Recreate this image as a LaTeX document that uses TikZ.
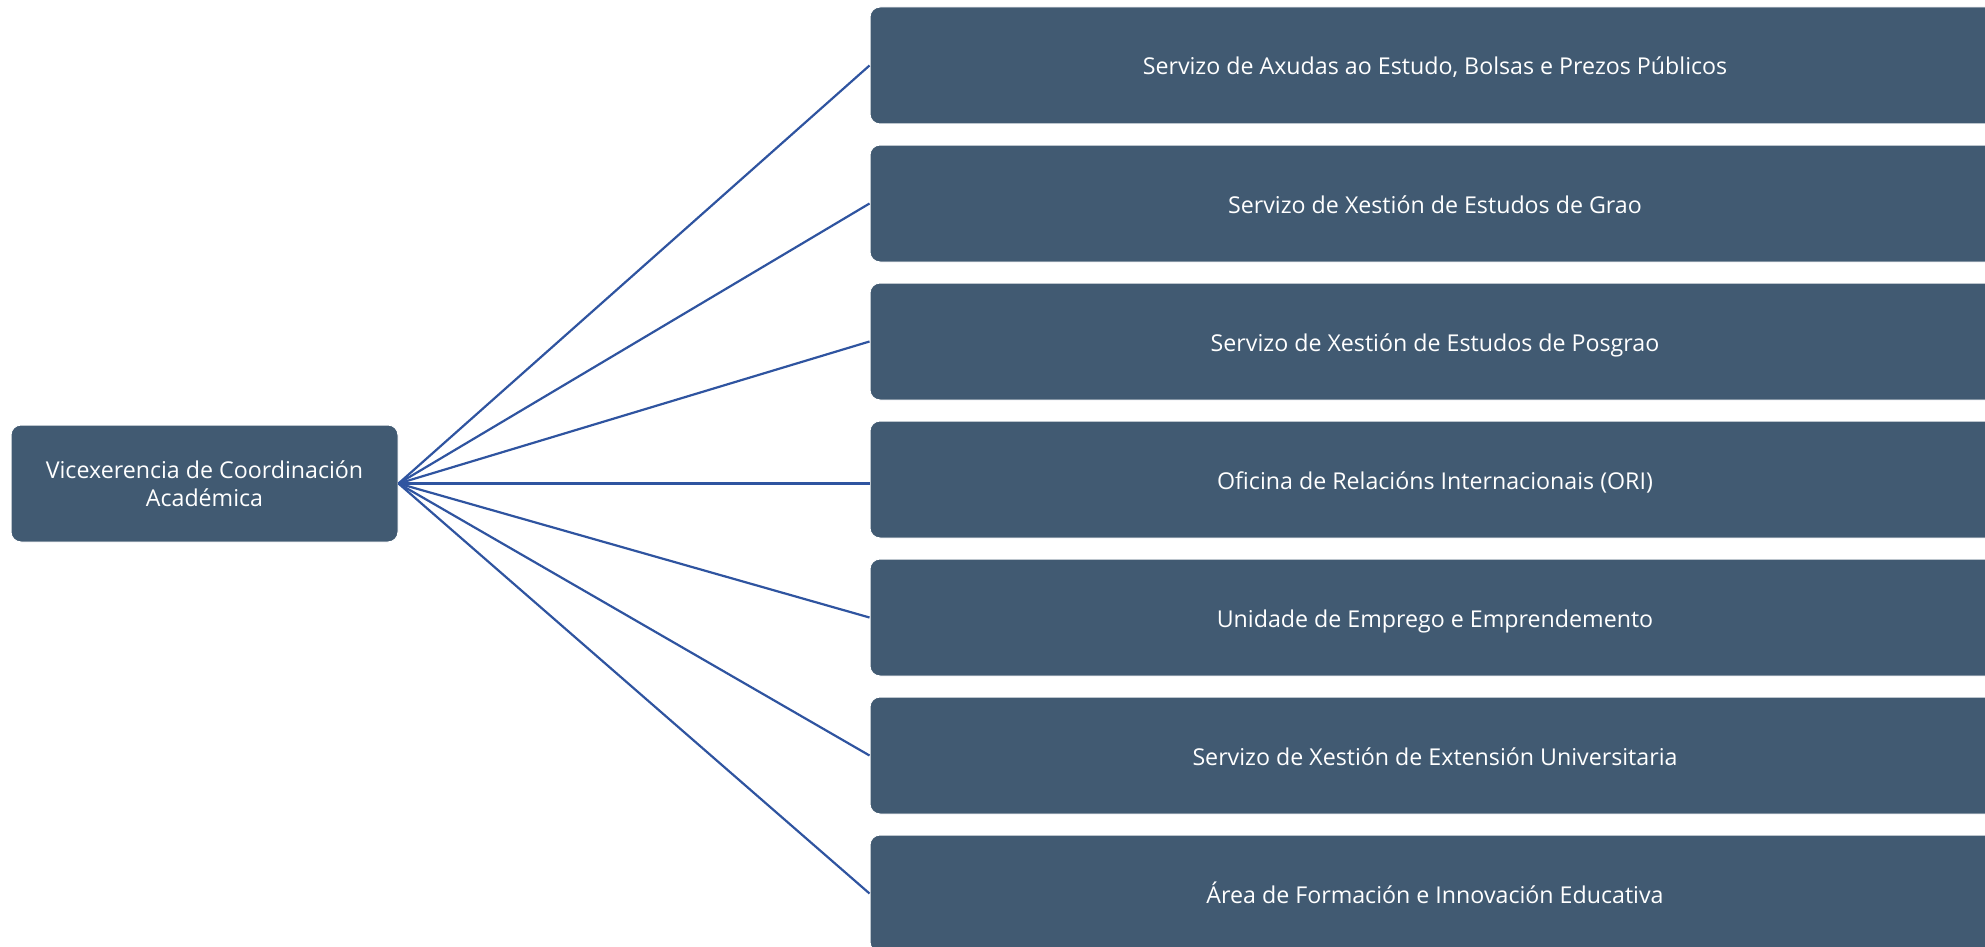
\documentclass[tikz,border=0pt]{standalone}
\usepackage{fontspec}
\setmainfont{Open Sans}
\definecolor{boxfill}{RGB}{65,90,114}
\definecolor{linkcol}{RGB}{47,84,160}
\tikzset{
  unit/.style={draw=white, line width=1pt, fill=boxfill, rounded corners=10pt, text=white, inner sep=0pt, align=center, font=\fontsize{23.2}{28}\selectfont},
  rootbox/.style={unit, minimum width=387pt, minimum height=117pt},
  leafbox/.style={unit, minimum width=1130pt, minimum height=117pt, text height=23pt, text depth=4pt},
  link/.style={draw=linkcol, line width=2.2pt}
}
\begin{document}
\begin{tikzpicture}[x=1pt,y=-1pt]
\useasboundingbox (0,0) rectangle (1985,947);
\clip (0,0) rectangle (1985,947);
\node[rootbox] (root) at (204.5,483.5) {Vicexerencia de Coordinación\\Académica};
\node[leafbox] (b1) at (1435,65.5) {Servizo de Axudas ao Estudo, Bolsas e Prezos Públicos};
\node[leafbox] (b2) at (1435,203.5) {Servizo de Xestión de Estudos de Grao};
\node[leafbox] (b3) at (1435,341.5) {Servizo de Xestión de Estudos de Posgrao};
\node[leafbox] (b4) at (1435,479.5) {Oficina de Relacións Internacionais (ORI)};
\node[leafbox] (b5) at (1435,617.5) {Unidade de Emprego e Emprendemento};
\node[leafbox] (b6) at (1435,755.5) {Servizo de Xestión de Extensión Universitaria};
\node[leafbox] (b7) at (1435,893.5) {Área de Formación e Innovación Educativa};
\foreach \b in {b1,b2,b3,b5,b6,b7}{
  \draw[link] (root.east) -- (\b.west);
}
\draw[link] (root.east) -- (root.east -| b4.west);
\end{tikzpicture}
\end{document}
